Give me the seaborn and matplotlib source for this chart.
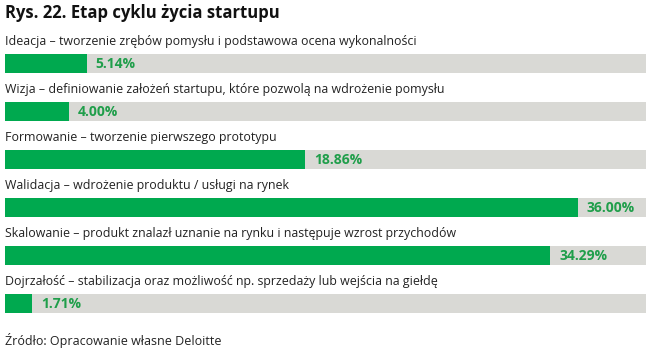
import seaborn as sns
import pandas as pd
from matplotlib import pyplot as plt

stages = [
    "Ideacja – tworzenie zrębów pomysłu i podstawowa ocena wykonalności",
    "Wizja – definiowanie założeń startupu, które pozwolą na wdrożenie pomysłu",
    "Formowanie – tworzenie pierwszego prototypu",
    "Walidacja – wdrożenie produktu / usługi na rynek",
    "Skalowanie – produkt znalazł uznanie na rynku i następuje wzrost przychodów",
    "Dojrzałość – stabilizacja oraz możliwość np. sprzedaży lub wejścia na giełdę",
]
shares = [5.14, 4.00, 18.86, 36.00, 34.29, 1.71]
track_max = 40.3

title = "Rys. 22. Etap cyklu życia startupu"
source = "Źródło: Opracowanie własne Deloitte"

GREEN = "#00a94f"
LABEL_GREEN = "#1f9e4a"
GREY = "#d9d9d5"

sns.set_theme(style="white")
plt.rcParams['font.family'] = ['Open Sans', 'DejaVu Sans']

df = pd.DataFrame({"stage": stages, "share": shares, "track": [track_max] * len(stages)})

fig = plt.figure(figsize=(6.55, 3.57), dpi=100)
ax = fig.add_axes([5 / 655, 29.5 / 357, 641 / 655, 300 / 357])

sns.barplot(data=df, x="track", y="stage", color=GREY, width=0.4, ax=ax,
            saturation=1, orient="h", linewidth=0)
sns.barplot(data=df, x="share", y="stage", color=GREEN, width=0.4, ax=ax,
            saturation=1, orient="h", linewidth=0)

ax.set_xlim(0, track_max)
ax.set_ylim(5.5, -0.75)
ax.axis("off")

for i, (name, val) in enumerate(zip(stages, shares)):
    ax.text(0, i - 0.45, name, fontsize=8.9, color="#222222", va="center", ha="left")
    ax.annotate(f"{val:.2f}%", xy=(val, i), xytext=(6.5, 0), textcoords="offset points",
                fontsize=10, fontweight="bold", color=LABEL_GREEN, va="center", ha="left")

fig.text(5 / 655, 1 - 13 / 357, title, fontsize=12, fontweight="bold",
         color="#111111", va="center", ha="left")
fig.text(5 / 655, 1 - 340 / 357, source, fontsize=9, color="#222222",
         va="center", ha="left")

fig.savefig("out.png", dpi=100)
